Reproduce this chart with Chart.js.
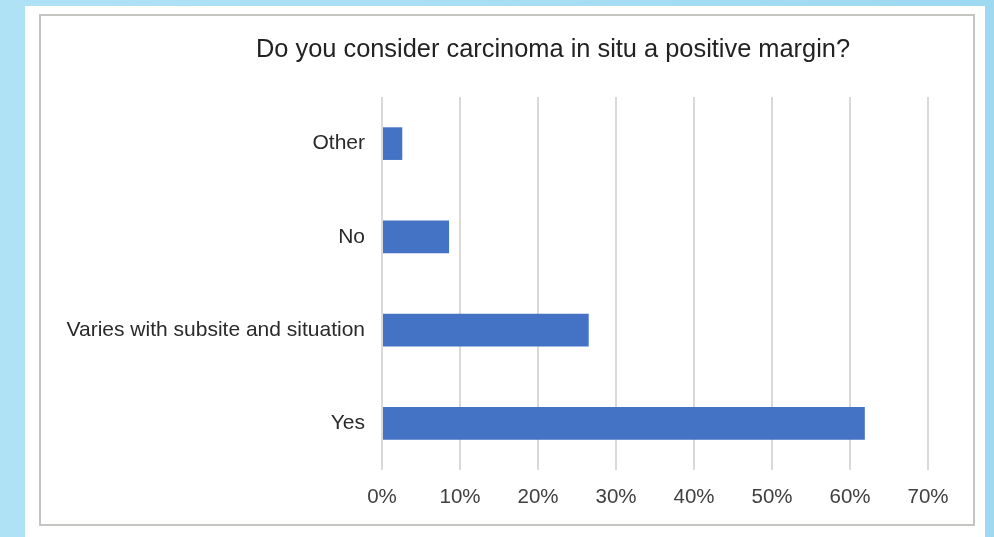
<!DOCTYPE html>
<html>
<head>
<meta charset="utf-8">
<script src="https://cdn.jsdelivr.net/npm/chart.js@4"></script>
<style>
  html, body { margin: 0; padding: 0; }
  body {
    width: 994px; height: 537px; overflow: hidden; position: relative;
    background: linear-gradient(90deg, #b0e2f6 0%, #a8def4 50%, #9dd9f1 100%);
  }
  #panel {
    position: absolute; left: 25px; top: 6px; width: 960px; height: 540px;
    background: #ffffff;
  }
  #frame {
    position: absolute; left: 39px; top: 14px; width: 932px; height: 508px;
    border: 2px solid #c4c4c0; background: #ffffff;
  }
  #wrap { position: absolute; left: 0; top: 0; width: 994px; height: 537px; }
</style>
</head>
<body>
<div id="panel"></div>
<div id="frame"></div>
<div id="wrap"><canvas id="chart" width="994" height="537"></canvas></div>
<script>
// Survey answers, percentages of respondents
const titleText = 'Do you consider carcinoma in situ a positive margin?';
const categories = ['Other', 'No', 'Varies with subsite and situation', 'Yes'];
const percentages = [2.6, 8.6, 26.5, 61.9];
const tickValues = [0, 10, 20, 30, 40, 50, 60, 70];

const FONT = '"Liberation Sans", Arial, Helvetica, sans-serif';

// Heading drawn above the plot, centred on its own column
const headingPlugin = {
  id: 'heading',
  afterDraw(chart) {
    const ctx = chart.ctx;
    ctx.save();
    ctx.font = '25.4px ' + FONT;
    ctx.fillStyle = '#222222';
    ctx.textAlign = 'center';
    ctx.textBaseline = 'middle';
    ctx.fillText(titleText, 553, 50);
    ctx.restore();
  }
};

new Chart(document.getElementById('chart'), {
  type: 'bar',
  data: {
    labels: categories,
    datasets: [{
      data: percentages,
      backgroundColor: '#4472c4',
      borderWidth: 0,
      barPercentage: 0.7,
      categoryPercentage: 0.5
    }]
  },
  options: {
    indexAxis: 'y',
    responsive: false,
    animation: false,
    devicePixelRatio: 1,
    layout: { padding: { left: 40, right: 66, top: 97, bottom: 0 } },
    plugins: {
      legend: { display: false },
      tooltip: { enabled: false },
      title: { display: false }
    },
    scales: {
      x: {
        min: 0,
        max: 70,
        afterBuildTicks: (axis) => { axis.ticks = tickValues.map(v => ({ value: v })); },
        afterFit: (axis) => { axis.height = 67; },
        ticks: {
          callback: (v) => v + '%',
          color: '#404040',
          padding: 15,
          maxRotation: 0,
          font: { family: FONT, size: 20.5 }
        },
        grid: { color: '#d9d9d9', lineWidth: 2, drawTicks: false },
        border: { display: false }
      },
      y: {
        afterFit: (axis) => { axis.width = 342; },
        ticks: {
          color: '#2a2a2a',
          padding: 17,
          font: { family: FONT, size: 21 }
        },
        grid: { display: false, drawTicks: false },
        border: { display: false }
      }
    }
  },
  plugins: [headingPlugin]
});
</script>
</body>
</html>
